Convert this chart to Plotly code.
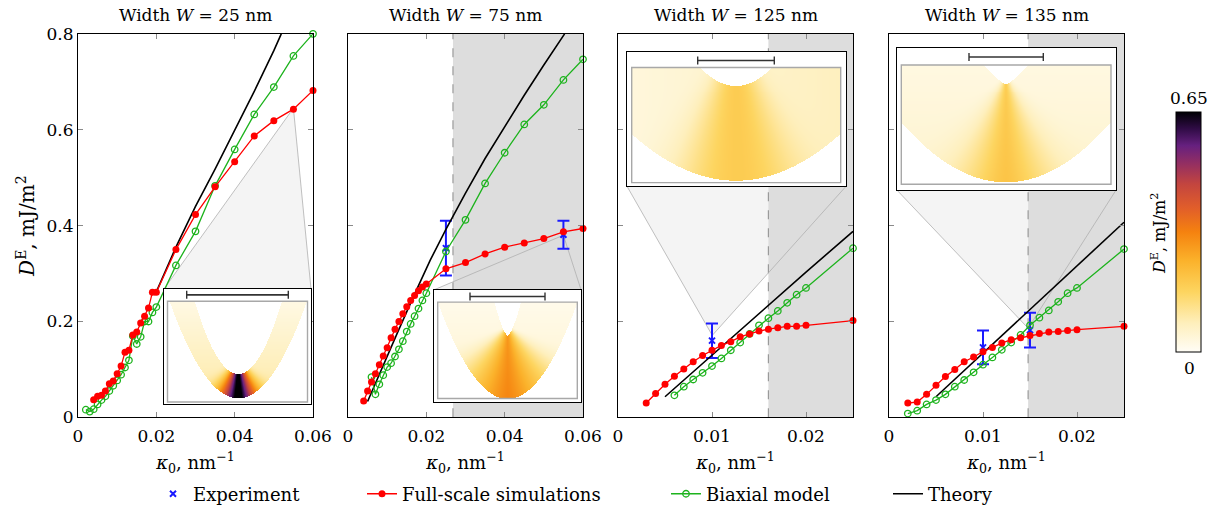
import numpy as np
import plotly.graph_objects as go

# ----------------------------- data -----------------------------
# Panel W = 25 nm
w25_sim_k = [0.004, 0.005, 0.006, 0.007, 0.008, 0.009, 0.010, 0.011, 0.012, 0.013, 0.014, 0.015, 0.016,
             0.017, 0.018, 0.019, 0.020, 0.025, 0.030, 0.035, 0.040, 0.045, 0.050, 0.055, 0.060]
w25_sim_d = [0.037, 0.044, 0.046, 0.055, 0.070, 0.076, 0.091, 0.107, 0.136, 0.140, 0.172, 0.178, 0.197,
             0.211, 0.228, 0.261, 0.261, 0.350, 0.423, 0.481, 0.533, 0.587, 0.619, 0.643, 0.682]
w25_bx_k = [0.002, 0.003, 0.004, 0.005, 0.006, 0.007, 0.008, 0.009, 0.010, 0.011, 0.012, 0.013, 0.014,
            0.015, 0.016, 0.017, 0.018, 0.019, 0.020, 0.025, 0.030, 0.035, 0.040, 0.045, 0.050, 0.055, 0.060]
w25_bx_d = [0.016, 0.012, 0.017, 0.027, 0.036, 0.044, 0.055, 0.066, 0.077, 0.089, 0.104, 0.119, 0.170,
            0.153, 0.168, 0.200, 0.200, 0.219, 0.230, 0.317, 0.388, 0.483, 0.559, 0.632, 0.689, 0.754, 0.800]
w25_th_k = [0.0195, 0.020, 0.025, 0.030, 0.035, 0.040, 0.045, 0.050, 0.0519]
w25_th_d = [0.255, 0.262, 0.355, 0.440, 0.518, 0.598, 0.680, 0.765, 0.800]

# Panel W = 75 nm
w75_sim_k = [0.004, 0.005, 0.006, 0.007, 0.008, 0.009, 0.010, 0.011, 0.012, 0.013, 0.014, 0.015, 0.016,
             0.017, 0.018, 0.019, 0.020, 0.025, 0.030, 0.035, 0.040, 0.045, 0.050, 0.055, 0.060]
w75_sim_d = [0.034, 0.055, 0.074, 0.091, 0.110, 0.128, 0.145, 0.166, 0.184, 0.200, 0.216, 0.231, 0.244,
             0.254, 0.264, 0.272, 0.278, 0.310, 0.323, 0.341, 0.355, 0.364, 0.373, 0.387, 0.394]
w75_bx_k = [0.006, 0.007, 0.008, 0.009, 0.010, 0.011, 0.012, 0.013, 0.014, 0.015, 0.016, 0.017, 0.018,
            0.019, 0.020, 0.025, 0.030, 0.035, 0.040, 0.045, 0.050, 0.055, 0.060]
w75_bx_d = [0.084, 0.048, 0.069, 0.088, 0.105, 0.113, 0.127, 0.142, 0.159, 0.179, 0.195, 0.211, 0.227,
            0.244, 0.259, 0.346, 0.412, 0.488, 0.552, 0.611, 0.652, 0.704, 0.747]
w75_th_k = [0.005, 0.0085, 0.0128, 0.017, 0.021, 0.025, 0.0268, 0.030, 0.035, 0.040, 0.045, 0.050, 0.0553]
w75_th_d = [0.033, 0.100, 0.180, 0.257, 0.328, 0.392, 0.420, 0.468, 0.540, 0.607, 0.672, 0.735, 0.800]
w75_exp_k = [0.025, 0.055]
w75_exp_d = [0.353, 0.381]
w75_exp_err = [0.057, 0.029]

# Panel W = 125 nm
w125_sim_k = [0.003, 0.004, 0.005, 0.006, 0.007, 0.008, 0.009, 0.010, 0.011, 0.012, 0.013, 0.014, 0.015,
              0.016, 0.017, 0.018, 0.019, 0.020, 0.025]
w125_sim_d = [0.030, 0.050, 0.069, 0.086, 0.101, 0.116, 0.129, 0.140, 0.150, 0.158, 0.168, 0.174, 0.180,
              0.184, 0.187, 0.190, 0.190, 0.192, 0.202]
w125_bx_k = [0.006, 0.007, 0.008, 0.009, 0.010, 0.011, 0.012, 0.013, 0.014, 0.015, 0.016, 0.017, 0.018,
             0.019, 0.020, 0.025]
w125_bx_d = [0.046, 0.064, 0.079, 0.093, 0.107, 0.123, 0.140, 0.156, 0.174, 0.192, 0.207, 0.222, 0.239,
             0.256, 0.270, 0.353]
w125_th_k = [0.005, 0.010, 0.015, 0.020, 0.025]
w125_th_d = [0.043, 0.130, 0.217, 0.303, 0.388]
w125_exp_k = [0.010]
w125_exp_d = [0.160]
w125_exp_err = [0.036]

# Panel W = 135 nm
w135_sim_k = [0.002, 0.003, 0.004, 0.005, 0.006, 0.007, 0.008, 0.009, 0.010, 0.011, 0.012, 0.013, 0.014,
              0.015, 0.016, 0.017, 0.018, 0.019, 0.020, 0.025]
w135_sim_d = [0.030, 0.032, 0.048, 0.067, 0.085, 0.100, 0.116, 0.126, 0.137, 0.146, 0.155, 0.162, 0.166,
              0.171, 0.175, 0.178, 0.179, 0.181, 0.183, 0.190]
w135_bx_k = [0.002, 0.003, 0.004, 0.005, 0.006, 0.007, 0.008, 0.009, 0.010, 0.011, 0.012, 0.013, 0.014,
             0.015, 0.016, 0.017, 0.018, 0.019, 0.020, 0.025]
w135_bx_d = [0.008, 0.014, 0.027, 0.036, 0.048, 0.064, 0.078, 0.094, 0.110, 0.125, 0.141, 0.156, 0.172,
             0.192, 0.208, 0.223, 0.241, 0.259, 0.270, 0.351]
w135_th_k = [0.005, 0.010, 0.015, 0.020, 0.025]
w135_th_d = [0.043, 0.134, 0.225, 0.316, 0.407]
w135_exp_k = [0.010, 0.015]
w135_exp_d = [0.146, 0.182]
w135_exp_err = [0.035, 0.036]

panel_titles = ["Width <i>W</i> = 25 nm", "Width <i>W</i> = 75 nm",
                "Width <i>W</i> = 125 nm", "Width <i>W</i> = 135 nm"]
x_ticks_wide = [0, 0.02, 0.04, 0.06]
x_ticktext_wide = ["0", "0.02", "0.04", "0.06"]
x_ticks_narrow = [0, 0.01, 0.02]
x_ticktext_narrow = ["0", "0.01", "0.02"]
y_ticks = [0, 0.2, 0.4, 0.6, 0.8]
y_ticktext = ["0", "0.2", "0.4", "0.6", "0.8"]
cbar_max = 0.65

# ----------------------------- layout helpers -----------------------------
W, H = 1210, 513
FONT = "DejaVu Serif, serif"


def fx(px):
    return px / W


def fy(py):
    return 1 - py / H


RED = "#ff0000"
GREEN = "#1db31d"
BLUE = "#1a1aff"

colorscale = [[0.0, "#fffdf6"], [0.12, "#feefbc"], [0.25, "#fdd560"], [0.38, "#fbb22b"],
              [0.5, "#f5820f"], [0.6, "#e15e2a"], [0.7, "#c3453f"], [0.78, "#963060"],
              [0.86, "#66207f"], [0.93, "#300c46"], [1.0, "#000004"]]

panels = [
    dict(dom=(78, 313), xr=[0, 0.06], tv=x_ticks_wide, tt=x_ticktext_wide,
         sim=(w25_sim_k, w25_sim_d), bx=(w25_bx_k, w25_bx_d), th=(w25_th_k, w25_th_d),
         exp=None, shade=None, tri=((0.055, 0.645), (0.02196, 0.268), (0.05949, 0.268))),
    dict(dom=(348, 583), xr=[0, 0.06], tv=x_ticks_wide, tt=x_ticktext_wide,
         sim=(w75_sim_k, w75_sim_d), bx=(w75_bx_k, w75_bx_d), th=(w75_th_k, w75_th_d),
         exp=(w75_exp_k, w75_exp_d, w75_exp_err), shade=0.0268,
         tri=((0.055, 0.380), (0.02196, 0.266), (0.0595, 0.266))),
    dict(dom=(618, 853), xr=[0, 0.025], tv=x_ticks_narrow, tt=x_ticktext_narrow,
         sim=(w125_sim_k, w125_sim_d), bx=(w125_bx_k, w125_bx_d), th=(w125_th_k, w125_th_d),
         exp=(w125_exp_k, w125_exp_d, w125_exp_err), shade=0.0160,
         tri=((0.01003, 0.171), (0.00096, 0.482), (0.02426, 0.482))),
    dict(dom=(889, 1124), xr=[0, 0.025], tv=x_ticks_narrow, tt=x_ticktext_narrow,
         sim=(w135_sim_k, w135_sim_d), bx=(w135_bx_k, w135_bx_d), th=(w135_th_k, w135_th_d),
         exp=(w135_exp_k, w135_exp_d, w135_exp_err), shade=0.0148,
         tri=((0.0148, 0.186), (0.00085, 0.474), (0.02415, 0.474))),
]
Y_TOP, Y_BOT = 34, 419

fig = go.Figure()
shapes = []
annotations = []
layout = dict(width=W, height=H, autosize=False, margin=dict(l=0, r=0, t=0, b=0, pad=0),
              paper_bgcolor="white", plot_bgcolor="white", showlegend=True,
              font=dict(family=FONT, size=17, color="black"))

legend_seen = set()


def show(name):
    if name in legend_seen:
        return False
    legend_seen.add(name)
    return True


for i, p in enumerate(panels):
    n = i + 1
    xa = "x" if n == 1 else f"x{n}"
    ya = "y" if n == 1 else f"y{n}"
    a, b, c = p["tri"]
    tri_path = f"M {a[0]},{a[1]} L {b[0]},{b[1]} L {c[0]},{c[1]} Z"
    # zoom connector fill (under the shading), shading, dashed boundary, connector outline
    shapes.append(dict(type="path", xref=xa, yref=ya, path=tri_path,
                       fillcolor="#f4f4f4", line=dict(width=0), layer="below"))
    if p["shade"] is not None:
        shapes.append(dict(type="rect", xref=xa, yref=ya, x0=p["shade"], x1=p["xr"][1], y0=0, y1=0.8,
                           fillcolor="#dddddd", line=dict(width=0), layer="below"))
        shapes.append(dict(type="line", xref=xa, yref=ya, x0=p["shade"], x1=p["shade"], y0=0, y1=0.8,
                           line=dict(color="#9a9a9a", width=1.2, dash="dash"), layer="below"))
    shapes.append(dict(type="path", xref=xa, yref=ya, path=tri_path, fillcolor="rgba(0,0,0,0)",
                       line=dict(color="#b0b0b0", width=0.8), layer="below"))

    if p["exp"] is not None:
        fig.add_trace(go.Scatter(x=p["exp"][0], y=p["exp"][1], mode="markers", name="Experiment",
                                 marker=dict(symbol="x-thin", size=6, color=BLUE, line=dict(width=2, color=BLUE)),
                                 error_y=dict(type="data", array=p["exp"][2], color=BLUE, thickness=2, width=6),
                                 xaxis=xa, yaxis=ya, cliponaxis=False,
                                 showlegend=show("Experiment"), legend="legend"))
    fig.add_trace(go.Scatter(x=p["th"][0], y=p["th"][1], mode="lines", name="Theory",
                             line=dict(color="black", width=1.6), xaxis=xa, yaxis=ya,
                             showlegend=show("Theory"), legend="legend4"))
    fig.add_trace(go.Scatter(x=p["bx"][0], y=p["bx"][1], mode="lines+markers", name="Biaxial model",
                             line=dict(color=GREEN, width=1.3),
                             marker=dict(symbol="circle-open", size=6.5, color=GREEN, line=dict(width=1.3)),
                             xaxis=xa, yaxis=ya, cliponaxis=False,
                             showlegend=show("Biaxial model"), legend="legend3"))
    fig.add_trace(go.Scatter(x=p["sim"][0], y=p["sim"][1], mode="lines+markers", name="Full-scale simulations",
                             line=dict(color=RED, width=1.3), marker=dict(symbol="circle", size=7, color=RED),
                             xaxis=xa, yaxis=ya, cliponaxis=False,
                             showlegend=show("Full-scale simulations"), legend="legend2"))

    xdom = [fx(p["dom"][0]), fx(p["dom"][1])]
    ydom = [fy(Y_BOT), fy(Y_TOP)]
    layout["xaxis" if n == 1 else f"xaxis{n}"] = dict(
        domain=xdom, range=p["xr"], anchor=ya, tickvals=p["tv"], ticktext=p["tt"], automargin=False,
        ticks="inside", ticklen=5, tickcolor="#8a8a8a", mirror="allticks", showline=True,
        linecolor="black", linewidth=1, showgrid=False, zeroline=False, tickfont=dict(size=17),
        ticklabelstandoff=3,
        title=dict(text="<i>κ</i><sub>0</sub>, nm<sup>−1</sup>", font=dict(size=18), standoff=11))
    ycfg = dict(
        domain=ydom, range=[0, 0.8], anchor=xa, tickvals=y_ticks, ticktext=y_ticktext, automargin=False,
        showticklabels=(n == 1), ticks="inside", ticklen=5, tickcolor="#8a8a8a", mirror="allticks",
        showline=True, linecolor="black", linewidth=1, showgrid=False, zeroline=False,
        tickfont=dict(size=17), ticklabelstandoff=0)
    if n == 1:
        ycfg["title"] = dict(text="<i>D</i><sup>E</sup>, mJ/m<sup>2</sup>", font=dict(size=20), standoff=6)
    layout["yaxis" if n == 1 else f"yaxis{n}"] = ycfg
    annotations.append(dict(text=panel_titles[i], x=fx((p["dom"][0] + p["dom"][1]) / 2), y=fy(15),
                            xref="paper", yref="paper", showarrow=False, font=dict(size=17),
                            xanchor="center", yanchor="middle"))


# ----------------------------- insets (illustrative energy maps) -----------------------------
def grid(w, h):
    xs = np.arange(0.5, w, 1.0)
    ys = np.arange(0.5, h, 1.0)
    X, Y = np.meshgrid(xs, ys)
    return xs, ys, X, Y


def inset1(w, h):
    xs, ys, X, Y = grid(w, h)
    dx = X - 74.3
    ad = np.abs(dx)
    yo = 109.3 - 0.02058 * dx ** 2
    yi = 85.0 - 0.03824 * dx ** 2
    inside = (Y <= yo) & (Y >= yi) & (Y >= 12.5) & (X >= 3.5) & (X <= 143.5)
    t = ad / np.maximum(Y - 68.0, 4.0)
    z = 0.015 + 0.09 * (Y / 110) + 0.6 * np.exp(-(t / 0.5) ** 1.4)
    return xs, ys, np.where(inside, np.clip(z, 0, 0.65), np.nan), (3.5, 12.5, 143.5, 113.5), (22.7, 124.3, 6)


def inset2(w, h):
    xs, ys, X, Y = grid(w, h)
    dx = X - 73.7
    ad = np.abs(dx)
    yo = 109.0 - 0.01984 * dx ** 2
    yn = 45.7 - 33.4 * (ad / 13.3) ** 1.5
    inside = (Y <= yo) & (Y >= 12.3) & (X >= 3.7) & (X <= 143.3) & (Y >= yn)
    t = ad / np.maximum(Y - 45.7 + 10, 3.0)
    z = 0.01 + 0.05 * (Y / 110) + 0.26 * np.exp(-(t / 0.8) ** 1.3)
    return xs, ys, np.where(inside, z, np.nan), (3.7, 12.3, 143.3, 109.0), (36.0, 111.0, 6.7)


def inset3(w, h):
    xs, ys, X, Y = grid(w, h)
    dx = X - 109.0
    ad = np.abs(dx)
    yn = 34.0 - 0.01428 * dx ** 2
    yb = 129.7 - 0.00429 * dx ** 2
    inside = (Y >= 15.7) & (Y >= yn) & (Y <= yb) & (X >= 4.7) & (X <= 213.7)
    t = ad / (Y - 34.0 + 60.0)
    z = 0.035 + 0.04 * (X / w) + 0.13 * np.exp(-(t / 0.4) ** 2)
    return xs, ys, np.where(inside, z, np.nan), (4.7, 15.7, 213.7, 131.3), (70.7, 147.3, 8.7)


def inset4(w, h):
    xs, ys, X, Y = grid(w, h)
    dx = X - 109.0
    ad = np.abs(dx)
    yn = 36.3 - 19.0 * (ad / 21.7) ** 1.3
    yb = 135.3 - 0.005474 * dx ** 2
    inside = (Y >= 17.3) & (Y >= yn) & (Y <= yb) & (X >= 4.3) & (X <= 214.0)
    t = ad / np.maximum(Y - 36.3 + 10, 5.0)
    z = 0.025 + 0.03 * (Y / h) + 0.15 * np.exp(-(t / 0.45) ** 1.5)
    return xs, ys, np.where(inside, z, np.nan), (4.3, 17.3, 214.0, 137.0), (72.0, 146.3, 9.3)


insets = [((164, 290, 311, 406), inset1), ((434, 291, 581, 404), inset2),
          ((627, 52, 846, 187), inset3), ((897, 48, 1116, 191), inset4)]

for j, (box, fn) in enumerate(insets):
    n = 5 + j
    x0, y0, x1, y1 = box
    w, h = x1 - x0, y1 - y0
    xs, ys, z, inner, bar = fn(w, h)
    zl = [[None if np.isnan(v) else round(float(v), 4) for v in row] for row in z]
    fig.add_trace(go.Heatmap(x=xs.tolist(), y=ys.tolist(), z=zl, coloraxis="coloraxis",
                             xaxis=f"x{n}", yaxis=f"y{n}", hoverinfo="skip", showlegend=False))
    layout[f"xaxis{n}"] = dict(domain=[fx(x0), fx(x1)], range=[0, w], anchor=f"y{n}", visible=True,
                               showline=True, mirror=True, linecolor="black", linewidth=1, automargin=False,
                               showticklabels=False, ticks="", showgrid=False, zeroline=False)
    layout[f"yaxis{n}"] = dict(domain=[fy(y1), fy(y0)], range=[h, 0], anchor=f"x{n}", visible=True,
                               showline=True, mirror=True, linecolor="black", linewidth=1, automargin=False,
                               showticklabels=False, ticks="", showgrid=False, zeroline=False)
    ix0, iy0, ix1, iy1 = inner
    shapes.append(dict(type="rect", xref=f"x{n}", yref=f"y{n}", x0=ix0, y0=iy0, x1=ix1, y1=iy1,
                       line=dict(color="#a8a8a8", width=1.4), layer="above"))
    bx0, bx1, by = bar
    shapes.append(dict(type="line", xref=f"x{n}", yref=f"y{n}", x0=bx0, x1=bx1, y0=by, y1=by,
                       line=dict(color="#333333", width=1.6), layer="above"))
    for bxx in (bx0, bx1):
        shapes.append(dict(type="line", xref=f"x{n}", yref=f"y{n}", x0=bxx, x1=bxx, y0=by - 4, y1=by + 4,
                           line=dict(color="#333333", width=1.4), layer="above"))

layout["coloraxis"] = dict(colorscale=colorscale, cmin=0, cmax=cbar_max,
                           colorbar=dict(x=fx(1176), xanchor="left", y=fy(233), yanchor="middle",
                                         lenmode="pixels", len=240, thicknessmode="pixels", thickness=25,
                                         xpad=0, ypad=0, outlinewidth=1, outlinecolor="black",
                                         showticklabels=False, ticks=""))
annotations += [
    dict(text="0.65", x=fx(1189), y=fy(110), xref="paper", yref="paper", showarrow=False,
         font=dict(size=17), xanchor="center", yanchor="bottom"),
    dict(text="0", x=fx(1189), y=fy(357), xref="paper", yref="paper", showarrow=False,
         font=dict(size=17), xanchor="center", yanchor="top"),
    dict(text="<i>D</i><sup>E</sup>, mJ/m<sup>2</sup>", x=fx(1158), y=fy(235), xref="paper", yref="paper",
         showarrow=False, textangle=-90, font=dict(size=16), xanchor="center", yanchor="middle"),
]

leg_common = dict(y=fy(496), yanchor="middle", xanchor="left", orientation="h",
                  bgcolor="rgba(0,0,0,0)", borderwidth=0, font=dict(size=18, family=FONT))
layout["legend"] = dict(x=fx(153), **leg_common)
layout["legend2"] = dict(x=fx(362), **leg_common)
layout["legend3"] = dict(x=fx(666), **leg_common)
layout["legend4"] = dict(x=fx(888), **leg_common)

layout["shapes"] = shapes
layout["annotations"] = annotations
fig.update_layout(**layout)
fig.write_html("out.html", config={"displayModeBar": False},
               post_script="document.body.style.margin='0px';")
